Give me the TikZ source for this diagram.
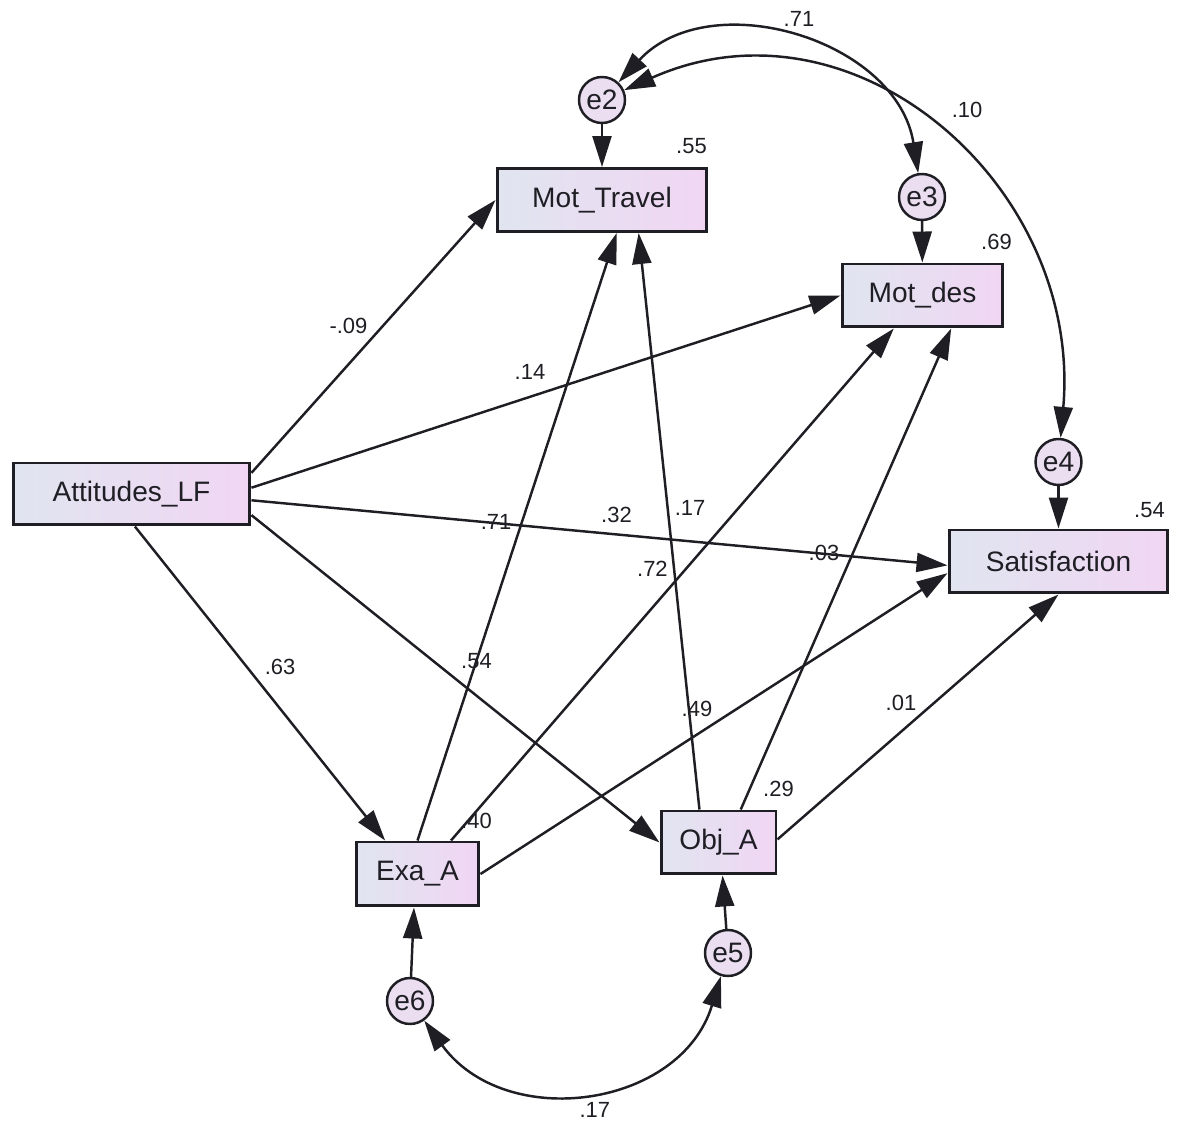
\documentclass[tikz,border=0pt]{standalone}
\usepackage{fontspec}
\setmainfont{Liberation Sans}
\usetikzlibrary{arrows.meta,calc}

\definecolor{boxl}{RGB}{224,229,240}
\definecolor{boxr}{RGB}{241,214,243}
\definecolor{errfill}{RGB}{234,222,240}
\definecolor{ink}{RGB}{30,30,36}

\begin{document}
\begin{tikzpicture}[x=0.02cm,y=0.02cm,
   >={Triangle[length=0.62cm,width=0.38cm]},
   var/.style={draw=ink,line width=1.7pt,left color=boxl,right color=boxr,
     minimum height=1.26cm,inner sep=0pt,text=ink,font=\fontsize{16}{18}\selectfont},
   err/.style={circle,draw=ink,line width=1.4pt,fill=errfill,minimum size=0.92cm,
     inner sep=0pt,text=ink,font=\fontsize{16}{18}\selectfont},
   lbl/.style={text=ink,font=\fontsize{12.5}{14}\selectfont,inner sep=0pt},
   pth/.style={->,line width=1.4pt,draw=ink},
   cov/.style={<->,line width=1.4pt,draw=ink}]
   \useasboundingbox (0,0) rectangle (1188,1134);
   % observed variables
   \node[var,minimum width=4.2cm] (mt) at (602,934) {Mot\_Travel};
   \node[var,minimum width=3.22cm] (md) at (922.5,838.5) {Mot\_des};
   \node[var,minimum width=4.74cm,minimum height=1.24cm] (att) at (131.5,640) {Attitudes\_LF};
   \node[var,minimum width=4.38cm] (sat) at (1058.5,572.5) {Satisfaction};
   \node[var,minimum width=2.46cm,minimum height=1.28cm] (exa) at (417.5,260) {Exa\_A};
   \node[var,minimum width=2.3cm] (obj) at (718.5,291.5) {Obj\_A};
   % error terms
   \node[err] (e2) at (602,1034) {e2};
   \node[err] (e3) at (922,937) {e3};
   \node[err] (e4) at (1058.5,672) {e4};
   \node[err] (e5) at (728,181) {e5};
   \node[err] (e6) at (410,133) {e6};
   % squared multiple correlations
   \node[lbl] (r2mt) at ($(mt.north east)+(-17,21)$) {.55};
   \node[lbl] (r2md) at ($(md.north east)+(-8,21)$) {.69};
   \node[lbl] (r2sat) at ($(sat.north east)+(-20,18)$) {.54};
   \node[lbl] (r2obj) at ($(obj.north east)+(1,21)$) {.29};
   \node[lbl] (r2exa) at ($(exa.north east)+(-4,20)$) {.40};
   \path[every edge/.style={pth,draw}]
   (att.10) edge node[lbl,midway,shift={(-25,10)}] {-.09} (mt.west)
   (att.3) edge node[lbl,midway,shift={(-16,20)}] {.14} (md.west)
   (att.-3) edge node[lbl,midway,shift={(17,18)}] {.32} (sat.182)
   (att.-84) edge node[lbl,midway,shift={(20,17)}] {.63} (exa.134)
   (att.-10) edge node[lbl,midway,shift={(21,18)}] {.54} (obj.west)
   (exa.north) edge node[lbl,midway,shift={(-21,15)}] {.71} (mt.-66)
   (exa.45) edge node[lbl,midway,shift={(-20,16)}] {.72} (md.-131)
   (exa.east) edge node[lbl,midway,shift={(-17,15)}] {.49} (sat.186)
   (obj.120) edge node[lbl,midway,shift={(21,13)}] {.17} (mt.-42)
   (obj.56) edge node[lbl,midway,shift={(-22,16)}] {.03} (md.-49)
   (obj.3) edge node[lbl,midway,shift={(-17,14)}] {.01} (sat.south)
   (e2) edge (mt)
   (e3) edge (md)
   (e4) edge (sat)
   (e5) edge (obj.-83)
   (e6) edge (exa.-96);
   % covariances
   \draw[cov] (e2) to[out=47,in=99,looseness=1.1] node[lbl,pos=.5,shift={(4,22)}] {.71} (e3);
   \draw[cov] (e2) to[out=24,in=85,looseness=1.16] node[lbl,pos=.5,shift={(30,21)}] {.10} (e4);
   \draw[cov] (e6) to[out=-54,in=-107,looseness=1.18] node[lbl,pos=.5,shift={(7,-20)}] {.17} (e5);
\end{tikzpicture}
\end{document}
